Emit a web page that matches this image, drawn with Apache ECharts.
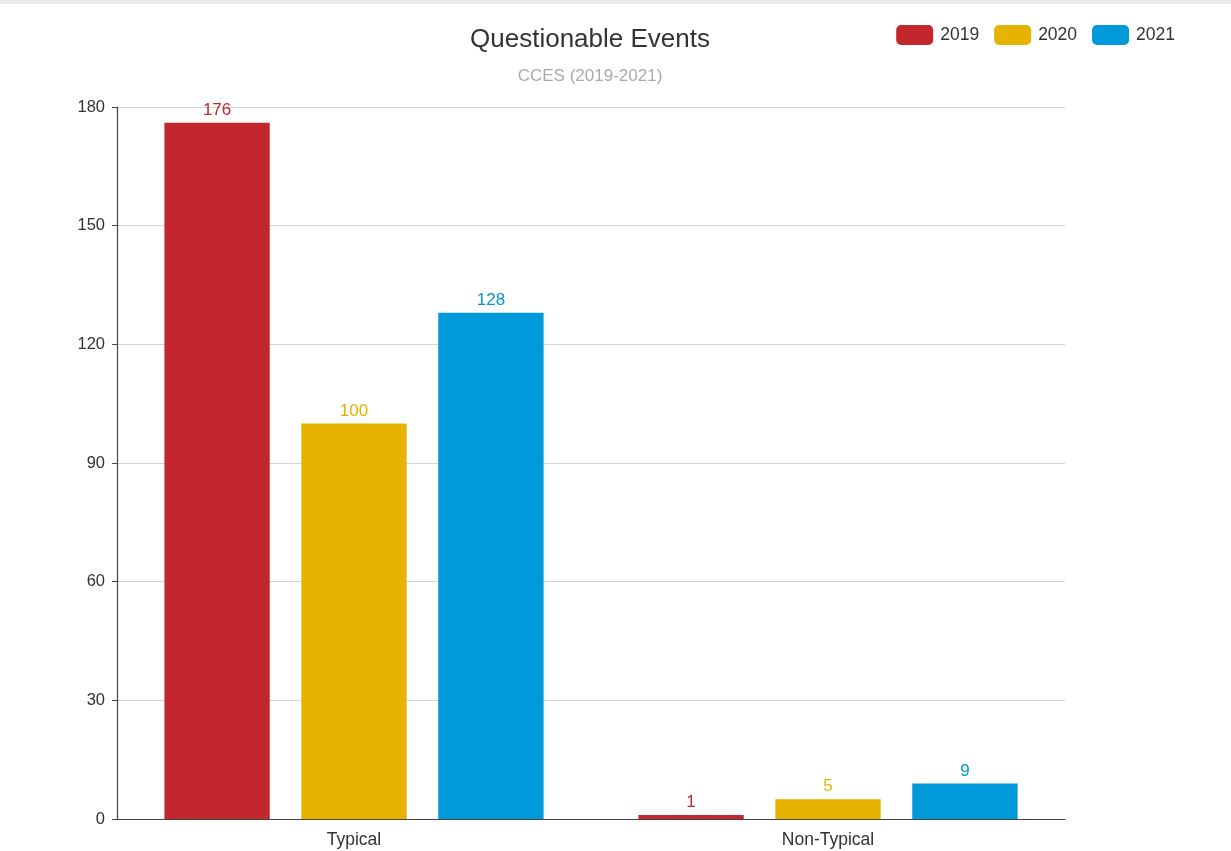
<!DOCTYPE html>
<html><head><meta charset="utf-8">
<script src="https://cdn.jsdelivr.net/npm/echarts@6/dist/echarts.min.js"></script>
<style>html,body{margin:0;padding:0;background:#fff;}#top{position:absolute;left:0;top:0;width:1231px;height:4px;background:#ececec;z-index:2;}#c{width:1231px;height:851px;}</style>
</head><body><div id="top"></div><div id="c"></div>
<script>
const categories = ['Typical', 'Non-Typical'];
const seriesNames = ['2019', '2020', '2021'];
const values2019 = [176, 1];
const values2020 = [100, 5];
const values2021 = [128, 9];
const colors = ['#c1272d', '#e6b400', '#0099da'];
const yTicks = { min: 0, max: 180, interval: 30 };

const FONT = 'Liberation Sans, Arial, sans-serif';
const chart = echarts.init(document.getElementById('c'));
const data = [values2019, values2020, values2021];
chart.setOption({
  animation: false,
  title: {
    text: 'Questionable Events', subtext: 'CCES (2019-2021)', left: 585, textAlign: 'center', top: 22,
    itemGap: 15,
    textStyle: { fontSize: 26, fontWeight: 'normal', color: '#333', fontFamily: FONT },
    subtextStyle: { fontSize: 17, color: '#aaa', fontFamily: FONT }
  },
  legend: {
    right: 51, top: 20, itemWidth: 37, itemHeight: 20, itemGap: 15,
    textStyle: { fontSize: 17.5, color: '#333', fontFamily: FONT, padding: [0, 0, 0, 2] },
    data: seriesNames
  },
  grid: { left: 117, right: 166, top: 107, bottom: 32 },
  xAxis: {
    type: 'category', data: categories,
    axisLine: { lineStyle: { color: '#444', width: 1.2 } },
    axisTick: { lineStyle: { color: '#444' } },
    axisLabel: { fontSize: 17.5, color: '#333', margin: 12, fontFamily: FONT }
  },
  yAxis: {
    type: 'value', min: yTicks.min, max: yTicks.max, interval: yTicks.interval,
    axisLine: { show: true, lineStyle: { color: '#444', width: 1.2 } },
    axisTick: { show: true, lineStyle: { color: '#444' } },
    splitLine: { lineStyle: { color: '#d4d4d4' } },
    axisLabel: { fontSize: 16.5, color: '#333', margin: 12, fontFamily: FONT }
  },
  series: seriesNames.map((n, i) => ({
    name: n, type: 'bar', data: data[i], barGap: '30%', barCategoryGap: '20%',
    itemStyle: { color: colors[i] },
    label: { show: true, position: 'top', color: colors[i], fontSize: 17, distance: 4, fontFamily: FONT }
  }))
});
</script></body></html>
